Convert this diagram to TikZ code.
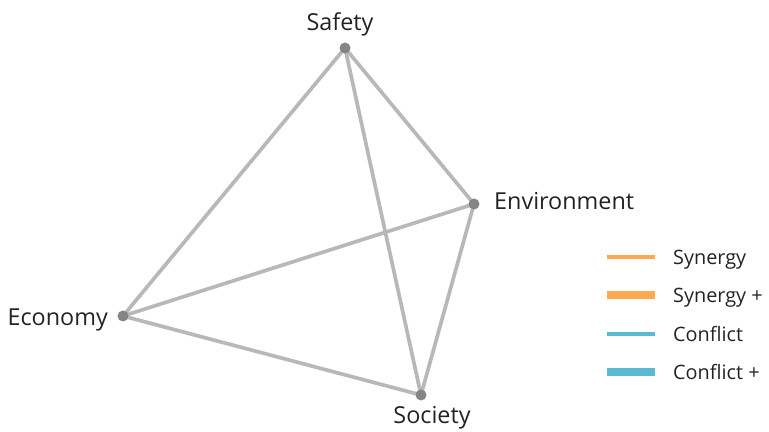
\documentclass[tikz,border=0pt]{standalone}
\usepackage{fontspec}
\setmainfont{Open Sans}
\usetikzlibrary{positioning,calc}
\definecolor{edgegray}{RGB}{184,184,184}
\definecolor{dotgray}{RGB}{133,133,133}
\definecolor{txtgray}{RGB}{35,35,35}
\definecolor{synorange}{RGB}{255,168,80}
\definecolor{conblue}{RGB}{90,186,210}
\tikzset{
  lbl/.style={text=txtgray,font=\fontsize{13.3}{15}\selectfont},
  leglbl/.style={text=txtgray,font=\fontsize{11.3}{13}\selectfont,anchor=west},
  link/.style={edgegray,line width=2.1pt},
}

\begin{document}
\begin{tikzpicture}[x=0.02cm,y=-0.02cm]
\useasboundingbox (0,0) rectangle (769,432);
% The four corners of the figure
\coordinate (safety) at (345,48);
\coordinate (env) at (474,204);
\coordinate (economy) at (123,316);
\coordinate (society) at (421,395);
% Links between every pair of corners
\draw[link] (safety) -- (env);
\draw[link] (safety) -- (economy);
\draw[link] (safety) -- (society);
\draw[link] (env) -- (economy);
\draw[link] (env) -- (society);
\draw[link] (economy) -- (society);
% Dots on the corners
\fill[dotgray] (safety) circle[radius=5.5];
\fill[dotgray] (env) circle[radius=5.5];
\fill[dotgray] (economy) circle[radius=5.5];
\fill[dotgray] (society) circle[radius=5.5];
% Labels of the corners
\node[lbl,above=0.12cm of safety,xshift=-0.1cm] (safetylbl) {Safety};
\node[lbl,right=0.28cm of env,yshift=0.06cm] (envlbl) {Environment};
\node[lbl,left=0.18cm of economy,yshift=-0.08cm] (economylbl) {Economy};
\node[lbl,below=0.1cm of society,xshift=0.22cm] (societylbl) {Society};
% Legend
\coordinate (leg1a) at (607,257); \coordinate (leg1b) at (655,257);
\coordinate (leg2a) at (607,295); \coordinate (leg2b) at (655,295);
\coordinate (leg3a) at (607,334); \coordinate (leg3b) at (655,334);
\coordinate (leg4a) at (607,372); \coordinate (leg4b) at (655,372);
\draw[synorange,line width=2.1pt] (leg1a) -- (leg1b);
\draw[synorange,line width=4.2pt] (leg2a) -- (leg2b);
\draw[conblue,line width=2.1pt] (leg3a) -- (leg3b);
\draw[conblue,line width=4.2pt] (leg4a) -- (leg4b);
\node[leglbl,right=0.24cm of leg1b,yshift=-0.06cm] (leg1) {Synergy};
\node[leglbl,right=0.24cm of leg2b,yshift=-0.06cm] (leg2) {Synergy +};
\node[leglbl,right=0.24cm of leg3b] (leg3) {Conflict};
\node[leglbl,right=0.24cm of leg4b] (leg4) {Conflict +};
\end{tikzpicture}
\end{document}
